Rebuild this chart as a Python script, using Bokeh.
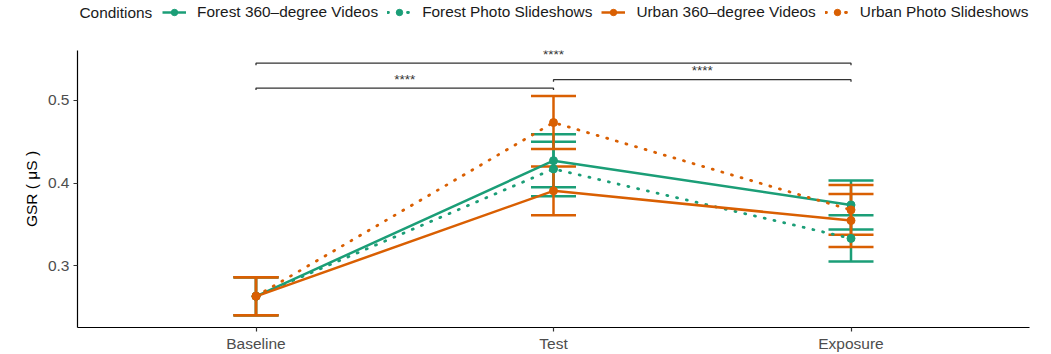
from bokeh.plotting import figure
from bokeh.layouts import column
from bokeh.models import (ColumnDataSource, Whisker, TeeHead, Range1d, FixedTicker,
                          Legend, LegendItem, Label)
from bokeh.embed import file_html
from bokeh.resources import INLINE

# Phases of the session (x categories)
conditions = ["Baseline", "Test", "Exposure"]

# Mean GSR (µS) and standard error per phase for each viewing condition
forest_video_mean = [0.263, 0.427, 0.3735]
forest_video_se = [0.023, 0.032, 0.0296]
forest_photo_mean = [0.263, 0.417, 0.333]
forest_photo_se = [0.023, 0.033, 0.028]
urban_video_mean = [0.263, 0.3905, 0.3546]
urban_video_se = [0.023, 0.0295, 0.032]
urban_photo_mean = [0.263, 0.4731, 0.3675]
urban_photo_se = [0.023, 0.032, 0.030]

series_names = ["Forest 360\u2013degree Videos", "Forest Photo Slideshows",
                "Urban 360\u2013degree Videos", "Urban Photo Slideshows"]

# Pairwise comparisons between phases with their significance labels
comparisons = [("Baseline", "Test"), ("Test", "Exposure"), ("Baseline", "Exposure")]
bracket_heights = [0.5148, 0.5249, 0.5449]
signif_labels = ["****", "****", "****"]

FONT = "Liberation Sans"
FS = "15.5px"
GREEN = "#1B9E77"
ORANGE = "#D95F02"

xpos = {c: i + 1 for i, c in enumerate(conditions)}
xs = [xpos[c] for c in conditions]

series = [
    (series_names[0], forest_video_mean, forest_video_se, GREEN, "solid"),
    (series_names[1], forest_photo_mean, forest_photo_se, GREEN, "dotted"),
    (series_names[2], urban_video_mean, urban_video_se, ORANGE, "solid"),
    (series_names[3], urban_photo_mean, urban_photo_se, ORANGE, "dotted"),
]


def styled_line(fig, source, color, style):
    if style == "solid":
        return fig.line("x", "y", source=source, line_color=color, line_width=2.5)
    return fig.line("x", "y", source=source, line_color=color, line_width=2.8,
                    line_dash="1 9", line_cap="round")


sources = []
for name, mean, se, color, style in series:
    sources.append(ColumnDataSource(dict(
        x=xs, y=mean,
        upper=[m + s for m, s in zip(mean, se)],
        lower=[m - s for m, s in zip(mean, se)],
    )))

# ---- main panel ----
p = figure(width=1051, height=324, output_backend="svg", toolbar_location=None,
           x_range=Range1d(0.4, 3.6), y_range=Range1d(0.2253, 0.5602),
           min_border_left=77, min_border_right=22, min_border_top=20,
           min_border_bottom=26)
p.outline_line_color = None
p.xgrid.visible = False
p.ygrid.visible = False
p.background_fill_color = "white"
p.border_fill_color = "white"

for (name, mean, se, color, style), src in zip(series, sources):
    w = Whisker(base="x", upper="upper", lower="lower", source=src,
                line_color=color, line_width=2.5, level="underlay",
                upper_head=TeeHead(size=45, line_color=color, line_width=2.5),
                lower_head=TeeHead(size=45, line_color=color, line_width=2.5))
    p.add_layout(w)
    styled_line(p, src, color, style)
    p.scatter("x", "y", source=src, size=8, fill_color=color, line_color=color)

# Significance brackets
tip = 0.0025
bx, by, tx, ty = [], [], [], []
for (a, b), h in zip(comparisons, bracket_heights):
    x0, x1 = xpos[a], xpos[b]
    bx.append([x0, x0, x1, x1])
    by.append([h - tip, h, h, h - tip])
    tx.append((x0 + x1) / 2)
    ty.append(h)
p.multi_line(bx, by, line_color="#333333", line_width=1.3)
p.text(x=tx, y=ty, text=signif_labels, text_align="center", text_baseline="alphabetic",
       y_offset=-9, text_font_size="13.5px", text_color="#333333",
       text_font={"value": FONT})

# Axes
for ax in (p.xaxis[0], p.yaxis[0]):
    ax.axis_line_color = "black"
    ax.axis_line_width = 1.2
    ax.major_tick_line_color = "#333333"
    ax.major_tick_line_width = 1.2
    ax.major_tick_in = 0
    ax.major_tick_out = 4
    ax.minor_tick_line_color = None
    ax.major_label_text_font = FONT
    ax.major_label_text_font_size = FS
    ax.major_label_text_color = "#4D4D4D"

p.xaxis.ticker = FixedTicker(ticks=xs)
p.xaxis.major_label_overrides = {xpos[c]: c for c in conditions}
p.xaxis.major_label_standoff = 3

p.yaxis.ticker = FixedTicker(ticks=[0.3, 0.4, 0.5])
p.yaxis.major_label_overrides = {0.3: "0.3", 0.4: "0.4", 0.5: "0.5"}
p.yaxis.major_label_standoff = 4
p.yaxis.axis_label = "GSR ( \u03bcS )"
p.yaxis.axis_label_text_font = FONT
p.yaxis.axis_label_text_font_size = FS
p.yaxis.axis_label_text_font_style = "normal"
p.yaxis.axis_label_text_color = "black"
p.yaxis.axis_label_standoff = 5

# ---- legend strip across the top (its frame lines up with the main panel) ----
lg = figure(width=1051, height=30, output_backend="svg", toolbar_location=None,
            x_range=Range1d(10, 11), y_range=Range1d(10, 11),
            x_axis_location=None, y_axis_location=None, min_border=0)
lg.outline_line_color = None
lg.xgrid.visible = False
lg.ygrid.visible = False

items = []
for (name, mean, se, color, style), src in zip(series, sources):
    ln = styled_line(lg, src, color, style)
    pt = lg.scatter("x", "y", source=src, size=8, fill_color=color, line_color=color)
    items.append(LegendItem(label=name, renderers=[ln, pt]))

legend = Legend(items=items, orientation="horizontal", location=(85, 9),
                label_text_font=FONT, label_text_font_size="15.4px",
                label_text_color="#1A1A1A", glyph_width=24, glyph_height=16,
                label_standoff=11, spacing=9, padding=0, margin=0,
                border_line_color=None, background_fill_alpha=0)
lg.add_layout(legend)
lg.add_layout(Label(x=2, y=18, x_units="screen", y_units="screen", text="Conditions",
                    text_baseline="middle",
                    text_font=FONT, text_font_size="15.4px", text_color="#1A1A1A"))

layout = column(lg, p, spacing=0)
open("out.html", "w").write(file_html(layout, INLINE))
